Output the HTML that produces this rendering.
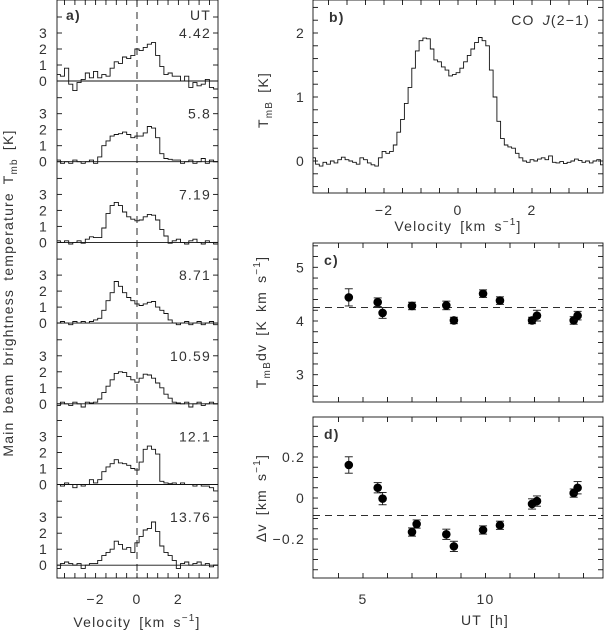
<!DOCTYPE html>
<html><head><meta charset="utf-8"><style>
body{margin:0;background:#fff}
svg{display:block;font-family:"Liberation Sans",sans-serif}
text{fill:#333;font-size:14px;letter-spacing:1.2px;word-spacing:3px}
</style></head><body>
<svg id="fig" width="604" height="632" viewBox="0 0 604 632"></svg>
<script>
// ---------- data ----------
const aTimes=["4.42","5.8","7.19","8.71","10.59","12.1","13.76"];
const aVel=[-3.8,-3.6,-3.4,-3.2,-3.0,-2.8,-2.6,-2.4,-2.2,-2.0,-1.8,-1.6,-1.4,-1.2,-1.0,-0.8,-0.6,-0.4,-0.2,0,0.2,0.4,0.6,0.8,1.0,1.2,1.4,1.6,1.8,2.0,2.2,2.4,2.6,2.8,3.0,3.2,3.4,3.6,3.8];
const spec1=[0.4,0.3,0.8,-0.2,-0.6,-0.1,0.1,0.5,0.2,0.6,0.2,0.4,0.3,0.8,1.2,1.1,1.5,1.4,1.6,2.0,1.9,2.1,2.3,2.4,1.6,0.9,0.4,0.5,0.3,0.3,0.0,0.3,-0.4,-0.1,-0.3,-0.2,0.1,-0.4,-0.5];
const spec2=[0.1,-0.1,0.0,-0.1,0.1,0.0,-0.1,0.0,0.1,-0.1,0.3,1.0,1.3,1.6,1.7,1.75,1.85,1.7,1.5,1.6,1.6,1.8,2.2,2.1,1.5,0.5,0.2,0.15,0.1,0.1,-0.1,0.0,0.1,-0.1,0.0,0.2,-0.1,0.1,0.0];
const spec3=[0.1,0.0,0.1,-0.1,0.0,0.1,-0.05,0.2,0.35,0.3,0.3,0.9,1.8,2.3,2.5,2.3,1.9,1.6,1.45,1.35,1.4,1.6,1.75,1.7,1.4,0.8,0.4,-0.05,0.1,0.2,0.0,-0.1,0.1,0.2,0.0,-0.1,0.1,0.0,-0.1];
const spec4=[0.0,0.1,0.0,-0.1,0.1,0.0,0.1,0.0,0.1,0.2,0.3,0.8,1.4,1.9,2.6,2.3,1.9,1.6,1.4,1.2,1.1,1.2,1.3,1.35,1.0,0.8,0.6,0.2,0.0,-0.1,0.0,0.1,-0.1,0.0,0.1,-0.1,0.0,0.1,-0.1];
const spec5=[-0.1,0.1,0.0,-0.1,0.1,0.0,-0.2,0.1,0.05,0.1,0.3,0.7,1.1,1.5,1.9,2.0,1.95,1.7,1.5,1.35,1.6,1.85,1.8,1.6,1.3,1.0,0.6,0.35,0.1,0.05,0.0,0.1,-0.2,0.0,0.1,-0.1,0.0,0.1,0.0];
const spec6=[0.0,-0.1,0.1,0.0,-0.2,0.0,-0.1,0.0,0.3,0.1,0.3,0.8,1.1,1.3,1.55,1.35,1.3,1.2,1.0,0.9,1.4,2.2,2.4,2.2,1.9,0.2,0.1,0.05,0.1,0.0,0.1,0.0,0.0,-0.1,0.0,-0.1,-0.1,-0.2,-0.4];
const spec7=[-0.2,0.1,0.2,0.1,0.0,0.1,-0.2,0.0,0.1,0.1,0.3,0.6,0.8,1.0,1.5,1.3,1.0,1.1,0.8,1.4,1.8,2.2,2.3,2.7,2.1,1.2,0.8,0.6,0.3,-0.2,0.1,0.2,0.0,0.1,0.2,0.0,0.1,-0.1,0.0];
const bVel=[];for(let i=0;i<=78;i++)bVel.push(Math.round((-3.9+0.1*i)*10)/10);
const bSpec=[0.05,-0.05,-0.08,-0.02,-0.05,0.0,-0.03,0.02,0.06,0.02,0.0,-0.02,-0.05,0.05,0.02,-0.03,-0.06,-0.08,0.05,0.15,0.12,0.15,0.25,0.45,0.65,0.9,1.15,1.45,1.72,1.88,1.92,1.91,1.75,1.58,1.55,1.47,1.42,1.33,1.35,1.38,1.45,1.55,1.65,1.75,1.85,1.93,1.88,1.8,1.42,1.0,0.62,0.35,0.25,0.22,0.2,0.12,0.05,0.0,-0.02,0.02,0.0,0.03,0.05,0.02,0.08,-0.02,-0.03,-0.01,-0.04,-0.02,0.0,0.03,0.01,-0.02,0.0,-0.03,0.0,0.02,-0.06];
const cUT=[4.42,5.6,5.8,7.0,8.4,8.71,9.9,10.59,11.9,12.1,13.6,13.76];
const cVal=[4.44,4.35,4.15,4.28,4.29,4.01,4.51,4.38,4.01,4.1,4.01,4.1];
const cErr=[0.16,0.08,0.1,0.07,0.08,0.06,0.07,0.07,0.06,0.1,0.07,0.08];
const cMean=4.25;
const dUT=[4.42,5.6,5.8,7.0,7.19,8.4,8.71,9.9,10.59,11.9,12.1,13.6,13.76];
const dVal=[0.161,0.05,-0.003,-0.166,-0.127,-0.177,-0.236,-0.156,-0.133,-0.029,-0.015,0.024,0.05];
const dErr=[0.04,0.025,0.03,0.02,0.02,0.025,0.025,0.02,0.02,0.025,0.025,0.02,0.03];
const dMean=-0.085;
// ---------- helpers ----------
const NS="http://www.w3.org/2000/svg",svg=document.getElementById('fig');
function mk(t,a,p){const e=document.createElementNS(NS,t);for(const k in a)e.setAttribute(k,a[k]);(p||svg).appendChild(e);return e;}
function line(x1,y1,x2,y2,dash,name){const e=mk('line',{x1,y1,x2,y2,stroke:'#111','stroke-width':0.9});if(dash)e.setAttribute('stroke-dasharray',dash);

return e;}
function txt(x,y,s,anchor,name,extra){const e=mk('text',Object.assign({x,y,'text-anchor':anchor||'middle'},extra||{}));e.innerHTML=s;

return e;}
function frame(x0,y0,x1,y1,name){const e=mk('rect',{x:x0,y:y0,width:x1-x0,height:y1-y0,fill:'none',stroke:'#111','stroke-width':0.9});

}
function steps(xs,ys,sx,sy,half,clip,name){let d='';xs.forEach((v,i)=>{const xa=sx(v-half),xb=sx(v+half),y=sy(ys[i]);d+=(i?'L':'M')+xa.toFixed(1)+','+y.toFixed(1)+'L'+xb.toFixed(1)+','+y.toFixed(1);});
const e=mk('path',{d,fill:'none',stroke:'#111','stroke-width':0.9,'clip-path':clip});

}
// ---------- panel a ----------
const aL=57,aR=218,aT=0,aB=578;
const ax=v=>137+v*20.7;
const ca=mk('clipPath',{id:'ca'});mk('rect',{x:aL,y:aT,width:aR-aL,height:aB-aT},ca);
const specs=[spec1,spec2,spec3,spec4,spec5,spec6,spec7];
specs.forEach((s,i)=>{const base=81+80.7*i;const sy=v=>base-v*16;
line(aL,base,aR,base,null,'zero-line-'+(i+1));
steps(aVel,s,ax,sy,0.1,'url(#ca)','spectrum-'+aTimes[i]);
for(let k=0;k<=4;k++){const y=sy(k);line(aL,y,aL+5,y,null,'y-tick');line(aR-5,y,aR,y,null,'y-tick');
if(k<=3)txt(48,y+5,String(k),'end','y-tick-label');}
txt(211,base-43,aTimes[i],'end','ut-label-'+aTimes[i]);
});
txt(211,20,'UT','end','ut-header');
line(ax(0),aT,ax(0),aB,'7,5','zero-velocity-line');
for(let v=-3.5;v<=3.5;v+=0.5){const x=ax(v);line(x,aT,x,aT+5,null,'x-tick');line(x,aB-5,x,aB,null,'x-tick');}
[-2,0,2].forEach(v=>txt(ax(v),604,v<0?'−'+(-v):String(v),'middle','x-tick-label'));
frame(aL,aT,aR,aB,'panel-a-frame');
txt(66,20,'a)','start','panel-a-label',{'font-weight':'bold','font-size':'15px'});
txt(137,627,'Velocity [km s<tspan dy="-6" font-size="10">−1</tspan><tspan dy="6">]</tspan>','middle','x-axis-title-a');
txt(0,0,'Main beam brightness temperature T<tspan dy="4" font-size="10">mb</tspan><tspan dy="-4"> [K]</tspan>','middle','y-axis-title-a',{transform:'translate(13,293) rotate(-90)','font-size':'15px','letter-spacing':'1.8px','word-spacing':'7px'});
// ---------- panel b ----------
const bL=313,bR=603,bT=0,bB=193;
const bx=v=>458+v*37,by=v=>161-v*64;
const cb=mk('clipPath',{id:'cb'});mk('rect',{x:bL,y:bT,width:bR-bL,height:bB-bT},cb);
steps(bVel,bSpec,bx,by,0.05,'url(#cb)','co-spectrum');
for(let v=-3.5;v<=3.5;v+=0.5){const x=bx(v);line(x,bT,x,bT+5,null,'x-tick');line(x,bB-5,x,bB,null,'x-tick');}
for(let k=-0.4;k<=2.41;k+=0.2){const y=by(k);line(bL,y,bL+5,y,null,'y-tick');line(bR-5,y,bR,y,null,'y-tick');}
[0,1,2].forEach(k=>txt(305,by(k)+5,String(k),'end','y-tick-label'));
[-2,0,2].forEach(v=>txt(bx(v),215,v<0?'−'+(-v):String(v),'middle','x-tick-label'));
frame(bL,bT,bR,bB,'panel-b-frame');
txt(329,22,'b)','start','panel-b-label',{'font-weight':'bold','font-size':'15px'});
txt(590,25,'CO <tspan font-style="italic">J</tspan>(2−1)','end','line-label');
txt(458,231,'Velocity [km s<tspan dy="-6" font-size="10">−1</tspan><tspan dy="6">]</tspan>','middle','x-axis-title-b');
txt(0,0,'T<tspan dy="4" font-size="10">mB</tspan><tspan dy="-4"> [K]</tspan>','middle','y-axis-title-b',{transform:'translate(268,100) rotate(-90)'});
// ---------- panel c & d ----------
const ux=u=>363+(u-5)*24.5;
function scatter(T,B,sy,ticks,step,labels,fmt,UT,V,E,mean,tag){
 for(let u=4;u<=14;u+=1){const x=ux(u);line(x,T,x,T+5,null,'x-tick');line(x,B-5,x,B,null,'x-tick');}
 ticks.forEach(k=>{const y=sy(k);line(bL,y,bL+5,y,null,'y-tick');line(bR-5,y,bR,y,null,'y-tick');});
 labels.forEach(k=>txt(305,sy(k)+5,fmt(k),'end','y-tick-label'));
 line(bL,sy(mean),bR,sy(mean),'7,5','mean-line-'+tag);
 UT.forEach((u,i)=>{const x=ux(u),y=sy(V[i]),y1=sy(V[i]+E[i]),y2=sy(V[i]-E[i]);
  line(x,y1,x,y2,null,'error-bar');line(x-4,y1,x+4,y1,null,'error-cap');line(x-4,y2,x+4,y2,null,'error-cap');
  const c=mk('circle',{cx:x,cy:y,r:4.3,fill:'#000'});
  
  });
 frame(bL,T,bR,B,'panel-'+tag+'-frame');
}
const cT=243,cB=402,cy=v=>321-(v-4)*53.7;
const cTicks=[];for(let k=2.6;k<=5.41;k+=0.2)cTicks.push(k);
scatter(cT,cB,cy,cTicks,0.2,[3,4,5],String,cUT,cVal,cErr,cMean,'c');
txt(324,265,'c)','start','panel-c-label',{'font-weight':'bold','font-size':'15px'});
txt(0,0,'T<tspan dy="4" font-size="10">mB</tspan><tspan dy="-4">dv [K km s</tspan><tspan dy="-6" font-size="10">−1</tspan><tspan dy="6">]</tspan>','middle','y-axis-title-c',{transform:'translate(266,322) rotate(-90)'});
const dT=417,dB=578,dy=v=>498-v*205;
const dTicks=[];for(let k=-0.35;k<=0.36;k+=0.05)dTicks.push(k);
scatter(dT,dB,dy,dTicks,0.05,[-0.2,0,0.2],k=>k<0?'−'+(-k):String(k),dUT,dVal,dErr,dMean,'d');
txt(324,439,'d)','start','panel-d-label',{'font-weight':'bold','font-size':'15px'});
[5,10].forEach(u=>txt(ux(u),604,String(u),'middle','x-tick-label'));
txt(485,625,'UT [h]','middle','x-axis-title-d');
txt(0,0,'Δv  [km s<tspan dy="-6" font-size="10">−1</tspan><tspan dy="6">]</tspan>','middle','y-axis-title-d',{transform:'translate(266,498) rotate(-90)'});
</script>
</body></html>
